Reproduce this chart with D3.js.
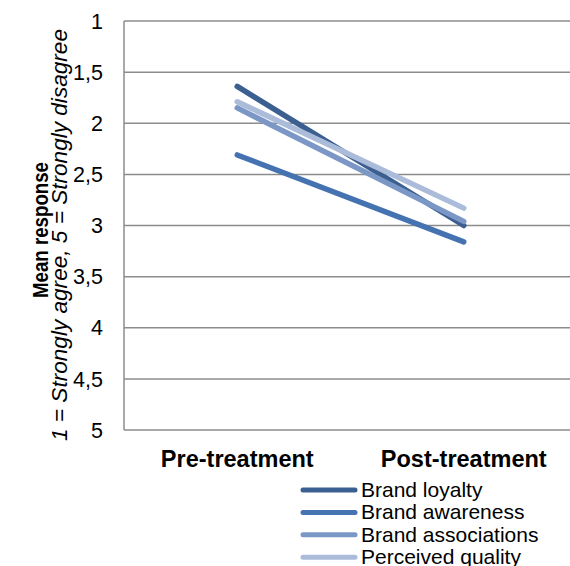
<!DOCTYPE html>
<html><head><meta charset="utf-8">
<script src="https://cdn.jsdelivr.net/npm/d3@7"></script>
<style>body{margin:0;background:#fff;} text{font-family:Arial,"Liberation Sans",sans-serif;}</style>
</head><body>
<svg id="c" width="570" height="566"></svg>
<script>
const categories = ["Pre-treatment", "Post-treatment"];
const seriesNames = ["Brand loyalty", "Brand awareness", "Brand associations", "Perceived quality"];
const brandLoyalty = [1.64, 3.0];
const brandAwareness = [2.31, 3.16];
const brandAssociations = [1.85, 2.96];
const perceivedQuality = [1.79, 2.83];
const yTicks = [1, 1.5, 2, 2.5, 3, 3.5, 4, 4.5, 5];
const colors = ["#3b5f91", "#4572b0", "#7b97c6", "#aabcda"];

(function () {
const series = [brandLoyalty, brandAwareness, brandAssociations, perceivedQuality];
const svg = d3.select("#c");
const mL = 124, mR = 577, mT = 21, mB = 430;
const x = d3.scaleBand().domain(categories).range([mL, mR]);
const y = d3.scaleLinear().domain([1, 5]).range([mT, mB]);

// grid
svg.append("g").selectAll("line").data(yTicks).join("line")
  .attr("x1", mL).attr("x2", mR)
  .attr("y1", d => y(d)).attr("y2", d => y(d))
  .attr("stroke", "#8c8c8c").attr("stroke-width", 1.5);
svg.append("line").attr("x1", mL).attr("x2", mL).attr("y1", mT).attr("y2", mB)
  .attr("stroke", "#8c8c8c").attr("stroke-width", 1.5);

// y tick labels
const fmt = d => String(d).replace(".", ",");
svg.append("g").selectAll("text").data(yTicks).join("text")
  .attr("x", 103).attr("y", d => y(d)).attr("dy", "0.36em")
  .attr("text-anchor", "end").attr("font-size", 21.5).attr("fill", "#000")
  .text(fmt);

// x labels
svg.append("g").selectAll("text").data(categories).join("text")
  .attr("x", d => x(d) + x.bandwidth() / 2).attr("y", 467)
  .attr("text-anchor", "middle").attr("font-size", 23.5).attr("font-weight", "bold")
  .text(d => d);

// axis title
const t = svg.append("g").attr("transform", "rotate(-90)");
t.append("text").attr("x", -230).attr("y", 48).attr("text-anchor", "middle")
  .attr("font-size", 21.5).attr("font-weight", "bold")
  .attr("textLength", 136).attr("lengthAdjust", "spacingAndGlyphs")
  .text("Mean response");
t.append("text").attr("x", -235).attr("y", 67).attr("text-anchor", "middle")
  .attr("font-size", 22.6).attr("font-style", "italic")
  .text("1 = Strongly agree, 5 = Strongly disagree");

// lines
const line = d3.line().x((d, i) => x(categories[i]) + x.bandwidth() / 2).y(d => y(d));
svg.append("g").selectAll("path").data(series).join("path")
  .attr("d", d => line(d)).attr("fill", "none")
  .attr("stroke", (d, i) => colors[i]).attr("stroke-width", 5.5)
  .attr("stroke-linecap", "round");

// legend
const lg = svg.append("g").selectAll("g").data(seriesNames).join("g")
  .attr("transform", (d, i) => `translate(0,${490 + i * 22.4})`);
lg.append("line").attr("x1", 303).attr("x2", 355).attr("y1", 0).attr("y2", 0)
  .attr("stroke", (d, i) => colors[i]).attr("stroke-width", 5).attr("stroke-linecap", "round");
lg.append("text").attr("x", 361).attr("y", 7)
  .attr("font-size", 21).text(d => d);
})();
</script>
</body></html>
